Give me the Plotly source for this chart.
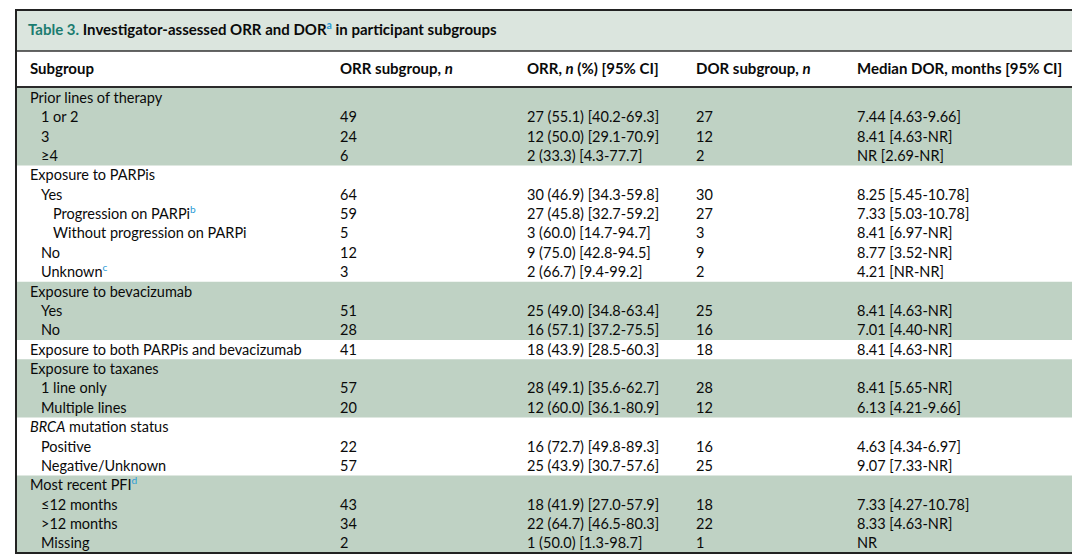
import plotly.graph_objects as go

W, H = 1080, 559
BODY_MARGIN = 8  # the page's default body margin offsets the plot

# ---- table content ----
labels = [
    "Prior lines of therapy", "1 or 2", "3", "≥4",
    "Exposure to PARPis", "Yes", "Progression on PARPi<sup>b</sup>",
    "Without progression on PARPi", "No", "Unknown<sup>c</sup>",
    "Exposure to bevacizumab", "Yes", "No",
    "Exposure to both PARPis and bevacizumab",
    "Exposure to taxanes", "1 line only", "Multiple lines",
    "<i>BRCA</i> mutation status", "Positive", "Negative/Unknown",
    "Most recent PFI<sup>d</sup>", "≤12 months", ">12 months", "Missing",
]
indent = [0, 1, 1, 1,
          0, 1, 2, 2, 1, 1,
          0, 1, 1,
          0,
          0, 1, 1,
          0, 1, 1,
          0, 1, 1, 1]
# block of each row (blocks alternate shaded / white)
block = [0, 0, 0, 0,
         1, 1, 1, 1, 1, 1,
         2, 2, 2,
         3,
         4, 4, 4,
         5, 5, 5,
         6, 6, 6, 6]
orr_n = ["", "49", "24", "6",
         "", "64", "59", "5", "12", "3",
         "", "51", "28",
         "41",
         "", "57", "20",
         "", "22", "57",
         "", "43", "34", "2"]
orr_ci = ["", "27 (55.1) [40.2-69.3]", "12 (50.0) [29.1-70.9]", "2 (33.3) [4.3-77.7]",
          "", "30 (46.9) [34.3-59.8]", "27 (45.8) [32.7-59.2]", "3 (60.0) [14.7-94.7]",
          "9 (75.0) [42.8-94.5]", "2 (66.7) [9.4-99.2]",
          "", "25 (49.0) [34.8-63.4]", "16 (57.1) [37.2-75.5]",
          "18 (43.9) [28.5-60.3]",
          "", "28 (49.1) [35.6-62.7]", "12 (60.0) [36.1-80.9]",
          "", "16 (72.7) [49.8-89.3]", "25 (43.9) [30.7-57.6]",
          "", "18 (41.9) [27.0-57.9]", "22 (64.7) [46.5-80.3]", "1 (50.0) [1.3-98.7]"]
dor_n = ["", "27", "12", "2",
         "", "30", "27", "3", "9", "2",
         "", "25", "16",
         "18",
         "", "28", "12",
         "", "16", "25",
         "", "18", "22", "1"]
dor_med = ["", "7.44 [4.63-9.66]", "8.41 [4.63-NR]", "NR [2.69-NR]",
           "", "8.25 [5.45-10.78]", "7.33 [5.03-10.78]", "8.41 [6.97-NR]",
           "8.77 [3.52-NR]", "4.21 [NR-NR]",
           "", "8.41 [4.63-NR]", "7.01 [4.40-NR]",
           "8.41 [4.63-NR]",
           "", "8.41 [5.65-NR]", "6.13 [4.21-9.66]",
           "", "4.63 [4.34-6.97]", "9.07 [7.33-NR]",
           "", "7.33 [4.27-10.78]", "8.33 [4.63-NR]", "NR"]
headers = ["Subgroup", "ORR subgroup, <i>n</i>", "ORR, <i>n</i> (%) [95% CI]",
           "DOR subgroup, <i>n</i>", "Median DOR, months [95% CI]"]
title_num = "Table 3."
title_text = "Investigator-assessed ORR and DOR<sup>a</sup> in participant subgroups"

SHADE = "#bfd2c4"
BAND = "#dbe5de"
TEAL = "#1b7c70"
SUP = "#2a9bd6"
INK = "#0a0a0a"
FONT = "Lato"
BODY = 14.5
BOLD = 15

# layout in screen pixels (y downwards)
left, right, top, bottom = 16, 1074, 10, 553
title_bottom = 51
header_bottom = 88
col_x = [30, 340, 527, 696, 857]
indent_px = [0, 11, 23]
n_rows = len(labels)
row_h = (bottom - header_bottom) / n_rows
row_y = [header_bottom + (i + 0.5) * row_h + 1.5 for i in range(n_rows)]


def sup_color(s):
    return s.replace("<sup>", f"<sup><span style='color:{SUP}'>").replace("</sup>", "</span></sup>")


fig = go.Figure()

# shaded blocks
for b in sorted(set(block)):
    if b % 2:
        continue
    rows = [i for i, v in enumerate(block) if v == b]
    fig.add_shape(type="rect", xref="x", yref="y", layer="below",
                  x0=left, x1=right,
                  y0=header_bottom + rows[0] * row_h, y1=header_bottom + (rows[-1] + 1) * row_h,
                  fillcolor=SHADE, line_width=0)

# title band and rules
fig.add_shape(type="rect", xref="x", yref="y", layer="below",
              x0=left, x1=right, y0=top, y1=title_bottom, fillcolor=BAND, line_width=0)
fig.add_shape(type="line", xref="x", yref="y", x0=left, x1=right, y0=title_bottom, y1=title_bottom,
              line=dict(color="#333", width=1.3))
fig.add_shape(type="line", xref="x", yref="y", x0=left, x1=right, y0=header_bottom - 1, y1=header_bottom - 1,
              line=dict(color="#2b2b2b", width=2))
fig.add_shape(type="rect", xref="x", yref="y", x0=left, x1=right, y0=top, y1=bottom,
              line=dict(color="#222", width=2))

# body columns (empty cells skipped)
sub_x = [col_x[0] + indent_px[lv] for lv in indent]
fig.add_trace(go.Scatter(x=sub_x, y=row_y, mode="text", text=[sup_color(s) for s in labels],
                         textposition="middle right", hoverinfo="skip",
                         textfont=dict(family=FONT, size=BODY, color=INK)))
for cx, col in zip(col_x[1:], [orr_n, orr_ci, dor_n, dor_med]):
    keep = [i for i, v in enumerate(col) if v]
    fig.add_trace(go.Scatter(x=[cx] * len(keep), y=[row_y[i] for i in keep], mode="text",
                             text=[col[i] for i in keep],
                             textposition="middle right", hoverinfo="skip",
                             textfont=dict(family=FONT, size=BODY, color=INK)))

# header row
fig.add_trace(go.Scatter(x=col_x, y=[(title_bottom + header_bottom) / 2 + 1] * len(headers), mode="text",
                         text=[f"<b>{h}</b>" for h in headers], textposition="middle right",
                         hoverinfo="skip", textfont=dict(family=FONT, size=BOLD, color=INK)))

# title
fig.add_trace(go.Scatter(
    x=[col_x[0] - 2], y=[(top + title_bottom) / 2 + 1], mode="text", hoverinfo="skip",
    text=[f"<b><span style='color:{TEAL}'>{title_num}</span> {sup_color(title_text)}</b>"],
    textposition="middle right", textfont=dict(family=FONT, size=BOLD, color=INK)))

fig.update_xaxes(range=[BODY_MARGIN, W], visible=False, fixedrange=True)
fig.update_yaxes(range=[H, BODY_MARGIN], visible=False, fixedrange=True)
fig.update_layout(width=W - BODY_MARGIN, height=H - BODY_MARGIN, margin=dict(l=0, r=0, t=0, b=0),
                  paper_bgcolor="white", plot_bgcolor="white", showlegend=False)
fig.write_html("out.html")
